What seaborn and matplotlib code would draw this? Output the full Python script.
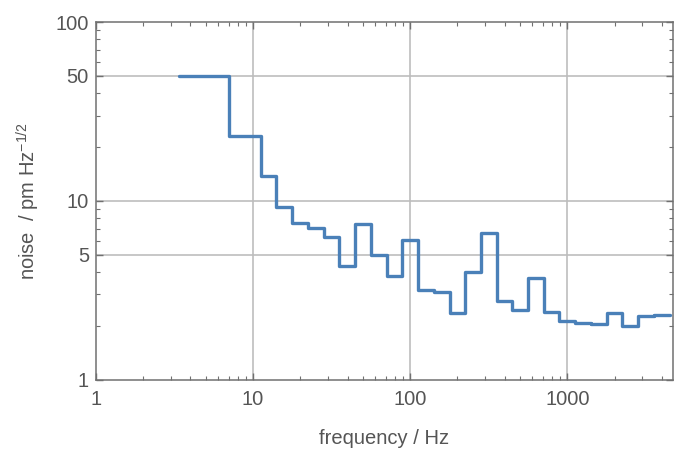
import matplotlib
matplotlib.use("Agg")
import matplotlib.pyplot as plt
import matplotlib.ticker as mtick
import seaborn as sns
import pandas as pd

# -- Data -----------------------------------------------------
# band edges in Hz (29 edges -> 28 bands)
band_edges = [3.4, 7.0, 11.2, 14.1, 17.8, 22.4, 28.2, 35.5, 44.7, 56.2,
              70.8, 89.1, 112, 141, 178, 224, 282, 355, 447, 562,
              708, 891, 1122, 1413, 1778, 2239, 2818, 3548, 4467]
# noise level per band, pm Hz^-1/2
noise = [50.0, 23.1, 13.8, 9.2, 7.56, 7.04, 6.27, 4.33, 7.44, 4.97,
         3.83, 6.05, 3.18, 3.10, 2.36, 3.99, 6.60, 2.77, 2.46, 3.73,
         2.39, 2.13, 2.08, 2.05, 2.35, 2.00, 2.27, 2.31]

x_ticks = [1, 10, 100, 1000]
y_ticks = [1, 5, 10, 50, 100]

# -- Style ----------------------------------------------------
sns.set_theme(style="ticks")
plt.rcParams["font.family"] = ["Liberation Sans", "DejaVu Sans"]
plt.rcParams["mathtext.fontset"] = "custom"
plt.rcParams["mathtext.rm"] = "Liberation Sans"
plt.rcParams["mathtext.it"] = "Liberation Sans"

TXT = "#555555"
FRAME = "#707070"
GRID = "#bdbdbd"
LINE = "#4a80b8"
FS = 14.5

df = pd.DataFrame({"f": band_edges, "n": noise + [noise[-1]]})

fig = plt.figure(figsize=(6.75, 4.49), dpi=100)
ax = fig.add_axes([0.142, 0.154, 0.855, 0.797])

ax.set_xscale("log")
ax.set_yscale("log")
ax.set_xlim(1, 4700)
ax.set_ylim(1, 100)

for xv in [10, 100, 1000]:
    ax.axvline(xv, color=GRID, lw=1.2, zorder=0)
for yv in [5, 10, 50]:
    ax.axhline(yv, color=GRID, lw=1.2, zorder=0)

sns.lineplot(data=df, x="f", y="n", drawstyle="steps-post",
             estimator=None, color=LINE, linewidth=2.4, ax=ax)

ax.xaxis.set_major_locator(mtick.FixedLocator(x_ticks))
ax.xaxis.set_major_formatter(mtick.FixedFormatter([str(v) for v in x_ticks]))
ax.xaxis.set_minor_locator(mtick.LogLocator(base=10, subs=range(2, 10), numticks=20))
ax.xaxis.set_minor_formatter(mtick.NullFormatter())

ax.yaxis.set_major_locator(mtick.FixedLocator(y_ticks))
ax.yaxis.set_major_formatter(mtick.FixedFormatter([str(v) for v in y_ticks]))
ax.yaxis.set_minor_locator(mtick.LogLocator(base=10, subs=range(2, 10), numticks=20))
ax.yaxis.set_minor_formatter(mtick.NullFormatter())

ax.tick_params(which="both", direction="in", top=True, right=True,
               color=FRAME, labelcolor=TXT, labelsize=FS)
ax.tick_params(which="major", length=5, width=1)
ax.tick_params(which="minor", length=3, width=0.8)
ax.tick_params(axis="x", which="major", pad=7)
ax.tick_params(axis="y", which="major", pad=5)

for sp in ax.spines.values():
    sp.set_color(FRAME)
    sp.set_linewidth(1.1)

ax.set_xlabel("frequency / Hz", color=TXT, fontsize=FS, labelpad=15)
ax.set_ylabel(r"noise  / pm Hz$^{\mathregular{-1/2}}$", color=TXT,
              fontsize=FS, labelpad=10)

fig.savefig("out.png", dpi=100)
plt.close(fig)
